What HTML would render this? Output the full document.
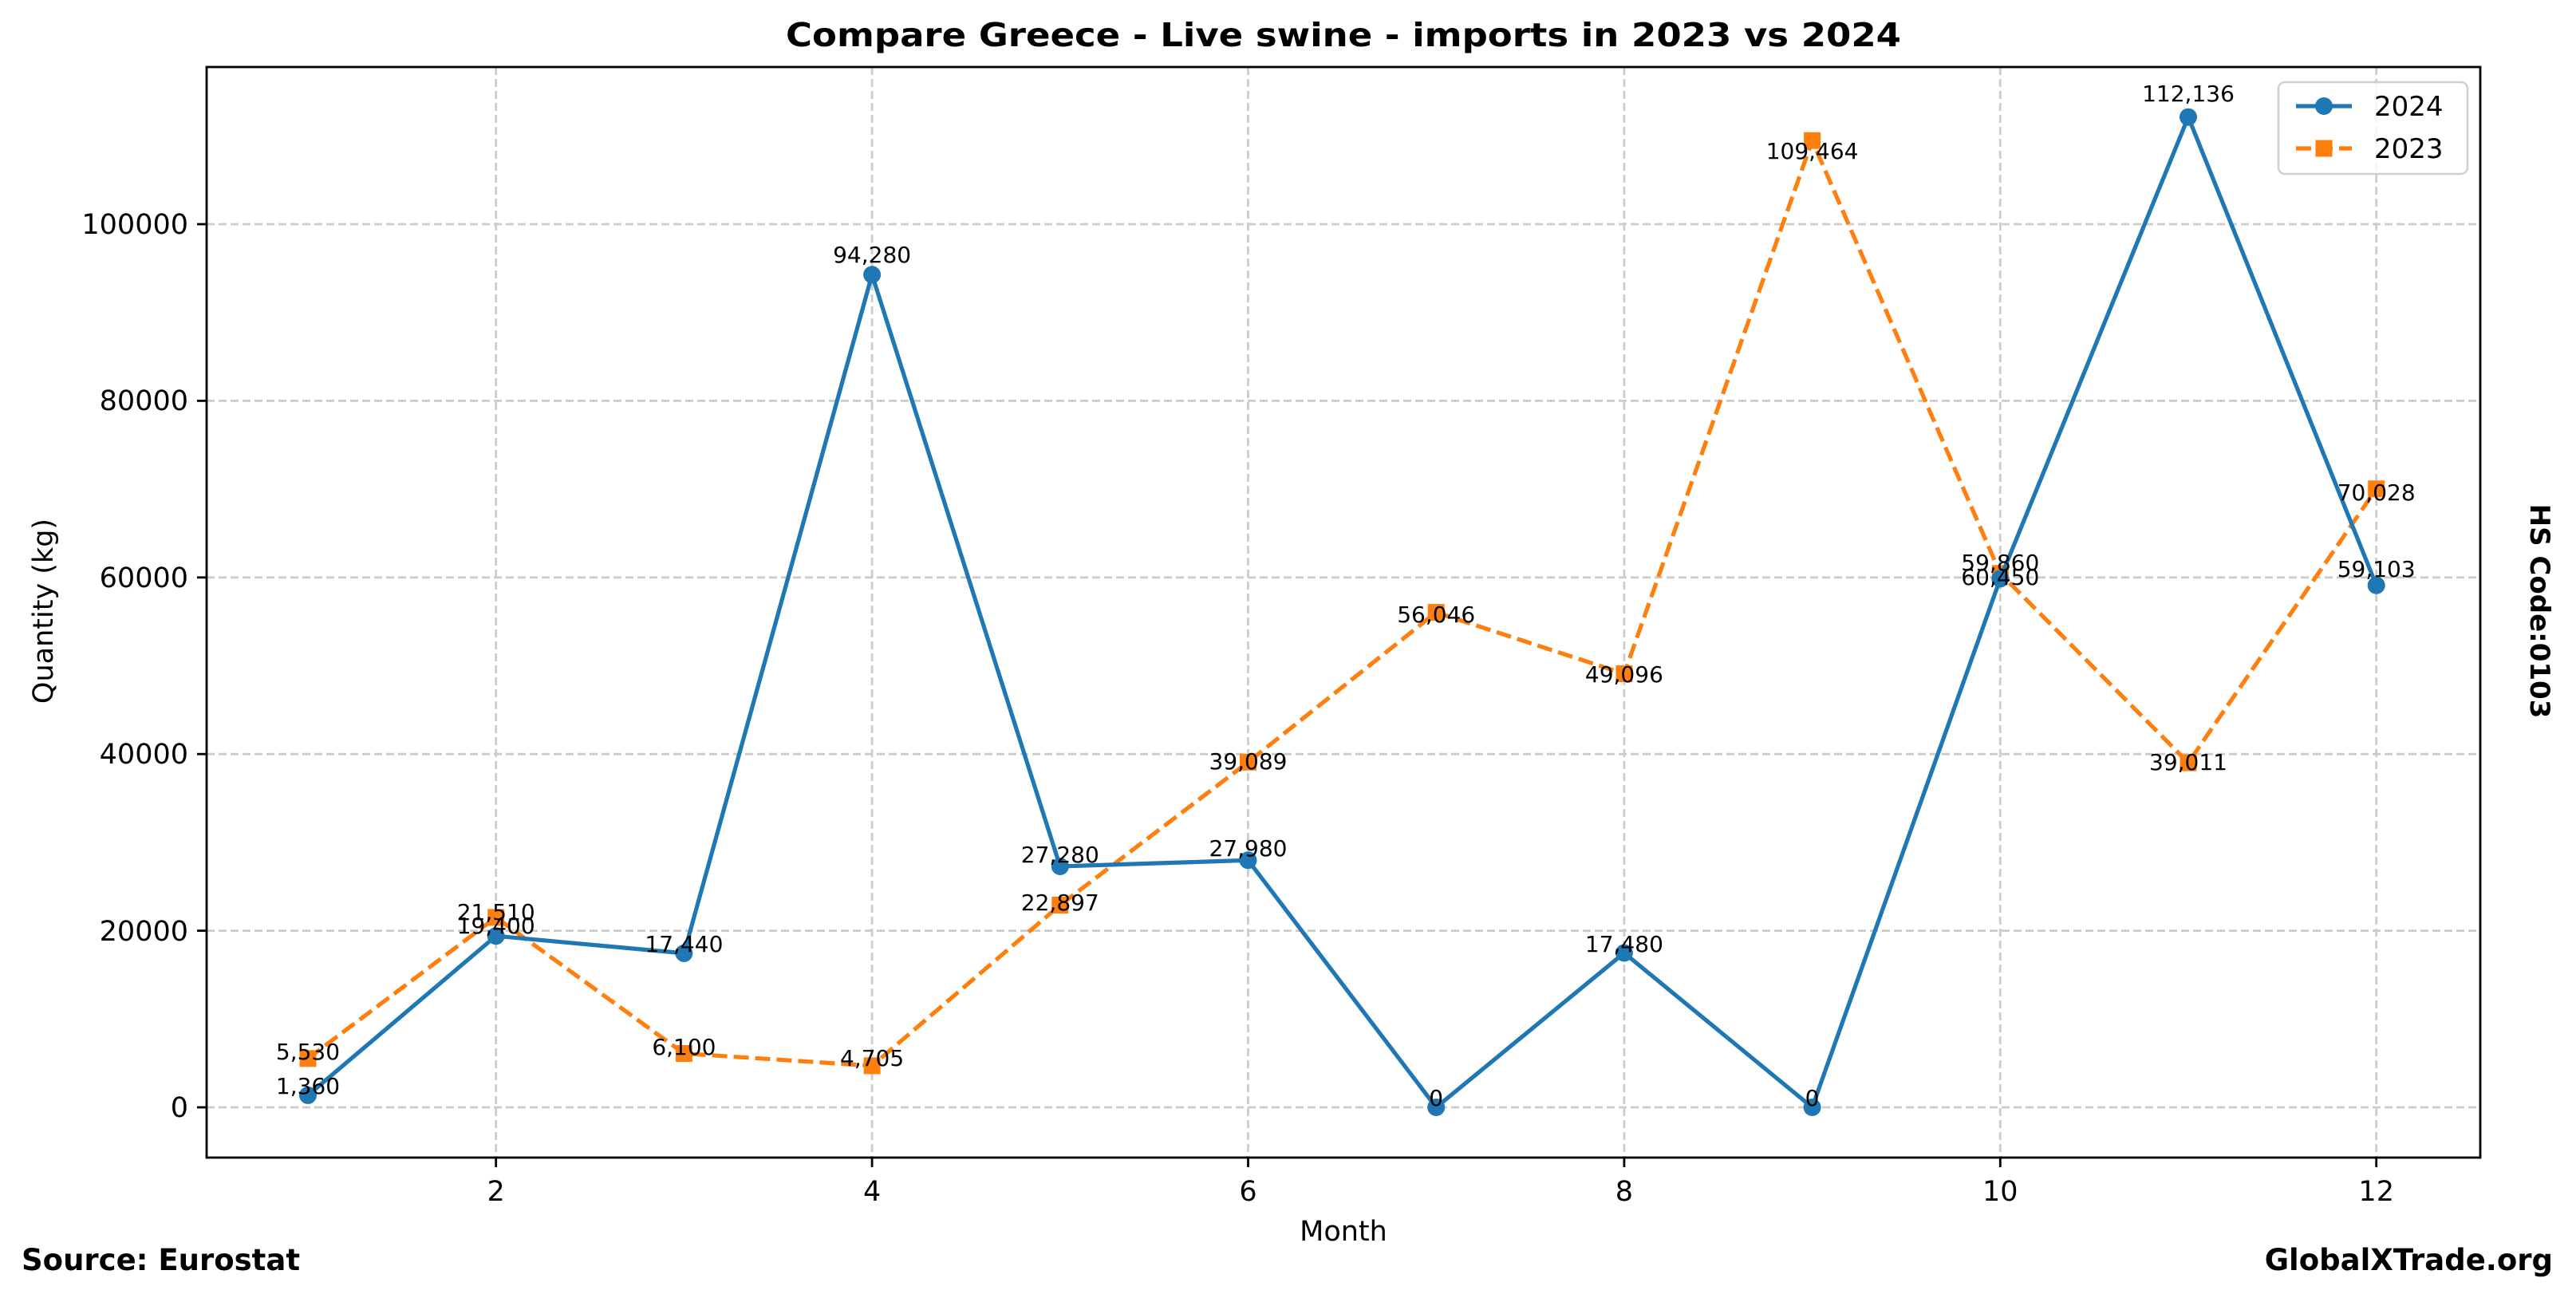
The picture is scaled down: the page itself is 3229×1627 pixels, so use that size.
<!DOCTYPE html>
<html><head><meta charset="utf-8"><style>
html,body{margin:0;padding:0;background:#fff;}
svg{display:block;font-family:"DejaVu Sans","Liberation Sans",sans-serif;}
</style></head><body>
<svg width="3229" height="1627" viewBox="0 0 3229 1627" xmlns="http://www.w3.org/2000/svg">
<rect width="3229" height="1627" fill="#fff"/>
<g stroke="#cccccc" stroke-width="2.8" stroke-dasharray="10,5" fill="none">
<line x1="259" x2="3109" y1="1388" y2="1388"/>
<line x1="259" x2="3109" y1="1166.6" y2="1166.6"/>
<line x1="259" x2="3109" y1="945.2" y2="945.2"/>
<line x1="259" x2="3109" y1="723.8" y2="723.8"/>
<line x1="259" x2="3109" y1="502.4" y2="502.4"/>
<line x1="259" x2="3109" y1="281" y2="281"/>
<line y1="84" y2="1451" x1="621.7" x2="621.7"/>
<line y1="84" y2="1451" x1="1093.1" x2="1093.1"/>
<line y1="84" y2="1451" x1="1564.5" x2="1564.5"/>
<line y1="84" y2="1451" x1="2035.9" x2="2035.9"/>
<line y1="84" y2="1451" x1="2507.3" x2="2507.3"/>
<line y1="84" y2="1451" x1="2978.7" x2="2978.7"/>
</g>
<g stroke="#000" stroke-width="2.8">
<line x1="247" x2="259" y1="1388" y2="1388"/>
<line x1="247" x2="259" y1="1166.6" y2="1166.6"/>
<line x1="247" x2="259" y1="945.2" y2="945.2"/>
<line x1="247" x2="259" y1="723.8" y2="723.8"/>
<line x1="247" x2="259" y1="502.4" y2="502.4"/>
<line x1="247" x2="259" y1="281" y2="281"/>
<line y1="1451" y2="1463" x1="621.7" x2="621.7"/>
<line y1="1451" y2="1463" x1="1093.1" x2="1093.1"/>
<line y1="1451" y2="1463" x1="1564.5" x2="1564.5"/>
<line y1="1451" y2="1463" x1="2035.9" x2="2035.9"/>
<line y1="1451" y2="1463" x1="2507.3" x2="2507.3"/>
<line y1="1451" y2="1463" x1="2978.7" x2="2978.7"/>
</g>
<g font-size="35" fill="#000" text-anchor="end">
<text x="236" y="1400">0</text>
<text x="236" y="1179">20000</text>
<text x="236" y="957">40000</text>
<text x="236" y="736">60000</text>
<text x="236" y="514">80000</text>
<text x="236" y="293">100000</text>
</g>
<g font-size="35" fill="#000" text-anchor="middle">
<text x="621.7" y="1505">2</text>
<text x="1093.1" y="1505">4</text>
<text x="1564.5" y="1505">6</text>
<text x="2035.9" y="1505">8</text>
<text x="2507.3" y="1505">10</text>
<text x="2978.7" y="1505">12</text>
<text x="1684" y="1555">Month</text>
<text transform="translate(66,766) rotate(-90)">Quantity (kg)</text>
</g>
<text x="1684" y="58" font-size="41" font-weight="bold" text-anchor="middle" textLength="1398" lengthAdjust="spacingAndGlyphs">Compare Greece - Live swine - imports in 2023 vs 2024</text>
<text x="27" y="1592" font-size="37" font-weight="bold">Source: Eurostat</text>
<text x="3200" y="1592" font-size="37" font-weight="bold" text-anchor="end">GlobalXTrade.org</text>
<text transform="translate(3172,766) rotate(90)" font-size="34" font-weight="bold" text-anchor="middle">HS Code:0103</text>
<polyline fill="none" stroke="#ff7f0e" stroke-width="5.2" stroke-dasharray="19,8" points="386,1326.8 621.7,1149.9 857.4,1320.5 1093.1,1335.9 1328.8,1134.5 1564.5,955.3 1800.2,767.6 2035.9,844.5 2271.6,176.2 2507.3,718.8 2743,956.1 2978.7,612.8"/>
<g fill="#ff7f0e">
<rect x="375.5" y="1316.3" width="21" height="21"/>
<rect x="611.2" y="1139.4" width="21" height="21"/>
<rect x="846.9" y="1310" width="21" height="21"/>
<rect x="1082.6" y="1325.4" width="21" height="21"/>
<rect x="1318.3" y="1124" width="21" height="21"/>
<rect x="1554" y="944.8" width="21" height="21"/>
<rect x="1789.7" y="757.1" width="21" height="21"/>
<rect x="2025.4" y="834" width="21" height="21"/>
<rect x="2261.1" y="165.7" width="21" height="21"/>
<rect x="2496.8" y="708.3" width="21" height="21"/>
<rect x="2732.5" y="945.6" width="21" height="21"/>
<rect x="2968.2" y="602.3" width="21" height="21"/>
</g>
<polyline fill="none" stroke="#1f77b4" stroke-width="5.2" points="386,1372.9 621.7,1173.2 857.4,1194.9 1093.1,344.3 1328.8,1086 1564.5,1078.3 1800.2,1388 2035.9,1194.5 2271.6,1388 2507.3,725.4 2743,146.7 2978.7,733.7"/>
<g fill="#1f77b4">
<circle cx="386" cy="1372.9" r="11"/>
<circle cx="621.7" cy="1173.2" r="11"/>
<circle cx="857.4" cy="1194.9" r="11"/>
<circle cx="1093.1" cy="344.3" r="11"/>
<circle cx="1328.8" cy="1086" r="11"/>
<circle cx="1564.5" cy="1078.3" r="11"/>
<circle cx="1800.2" cy="1388" r="11"/>
<circle cx="2035.9" cy="1194.5" r="11"/>
<circle cx="2271.6" cy="1388" r="11"/>
<circle cx="2507.3" cy="725.4" r="11"/>
<circle cx="2743" cy="146.7" r="11"/>
<circle cx="2978.7" cy="733.7" r="11"/>
</g>
<g font-size="28" fill="#000" text-anchor="middle">
<text x="386" y="1371">1,360</text>
<text x="621.7" y="1170">19,400</text>
<text x="857.4" y="1193">17,440</text>
<text x="1093.1" y="329">94,280</text>
<text x="1328.8" y="1081">27,280</text>
<text x="1564.5" y="1073">27,980</text>
<text x="1800.2" y="1386">0</text>
<text x="2035.9" y="1193">17,480</text>
<text x="2271.6" y="1386">0</text>
<text x="2507.3" y="715">59,860</text>
<text x="2743" y="127">112,136</text>
<text x="2978.7" y="723">59,103</text>
<text x="386" y="1328">5,530</text>
<text x="621.7" y="1153">21,510</text>
<text x="857.4" y="1322">6,100</text>
<text x="1093.1" y="1336">4,705</text>
<text x="1328.8" y="1141">22,897</text>
<text x="1564.5" y="964">39,089</text>
<text x="1800.2" y="780">56,046</text>
<text x="2035.9" y="855">49,096</text>
<text x="2271.6" y="199">109,464</text>
<text x="2507.3" y="733">60,450</text>
<text x="2743" y="965">39,011</text>
<text x="2978.7" y="627">70,028</text>
</g>
<rect x="259" y="84" width="2850" height="1367" fill="none" stroke="#000" stroke-width="2.8"/>
<rect x="2856" y="103" width="237" height="115" rx="8" fill="#fff" fill-opacity="0.8" stroke="#d0d0d0" stroke-width="2.5"/>
<line x1="2878" x2="2948" y1="133" y2="133" stroke="#1f77b4" stroke-width="5.2"/>
<circle cx="2913" cy="133" r="11" fill="#1f77b4"/>
<line x1="2878" x2="2948" y1="186" y2="186" stroke="#ff7f0e" stroke-width="5.2" stroke-dasharray="19,8"/>
<rect x="2902.5" y="175.5" width="21" height="21" fill="#ff7f0e"/>
<text x="2976" y="145" font-size="34">2024</text>
<text x="2976" y="198" font-size="34">2023</text>
</svg>
</body></html>
